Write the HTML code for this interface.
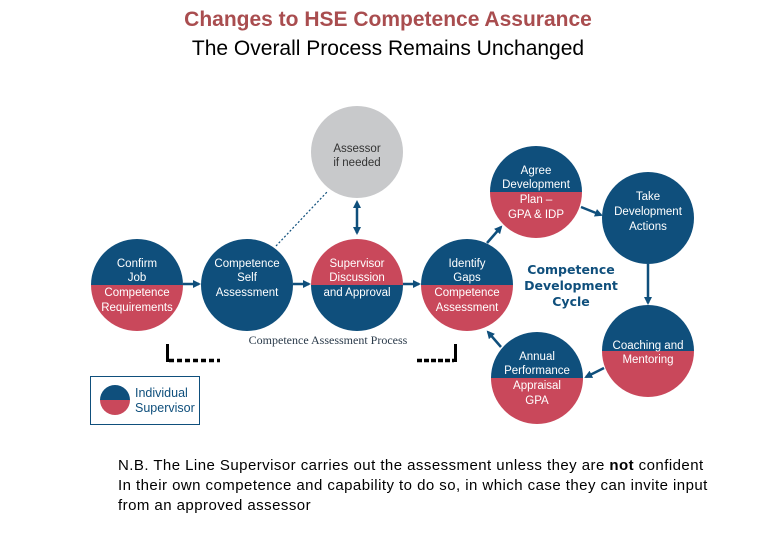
<!DOCTYPE html>
<html><head><meta charset="utf-8"><style>
html,body{margin:0;padding:0;background:#fff;}
svg{display:block;}
.c{font-family:"Liberation Sans",sans-serif;fill:#fff;font-size:11.5px;text-anchor:middle;}
</style></head><body>
<svg width="780" height="540" viewBox="0 0 780 540" xmlns="http://www.w3.org/2000/svg">
<defs>
<marker id="ah" markerWidth="8" markerHeight="8" refX="6" refY="4" orient="auto" markerUnits="userSpaceOnUse"><path d="M0,0 L8,4 L0,8 Z" fill="#0f4f7c"/></marker>
<marker id="ahs" markerWidth="8" markerHeight="8" refX="2" refY="4" orient="auto-start-reverse" markerUnits="userSpaceOnUse"><path d="M0,0 L8,4 L0,8 Z" fill="#0f4f7c"/></marker>
<clipPath id="cl"><circle cx="0" cy="0" r="46"/></clipPath>
</defs>
<text x="388" y="26" text-anchor="middle" font-family="Liberation Sans, sans-serif" font-weight="bold" font-size="21" fill="#a94d4f">Changes to HSE Competence Assurance</text>
<text x="388" y="55" text-anchor="middle" font-family="Liberation Sans, sans-serif" font-size="21" fill="#000">The Overall Process Remains Unchanged</text>

<g stroke="#0f4f7c" stroke-width="2.5" fill="none">
<line x1="183" y1="284" x2="199" y2="284" marker-end="url(#ah)"/>
<line x1="293" y1="284" x2="309" y2="284" marker-end="url(#ah)"/>
<line x1="403" y1="284" x2="419" y2="284" marker-end="url(#ah)"/>
<line x1="357" y1="206" x2="357" y2="233" marker-start="url(#ahs)" marker-end="url(#ah)"/>
<line x1="487" y1="243" x2="501" y2="227" marker-end="url(#ah)"/>
<line x1="581" y1="207" x2="601" y2="215" marker-end="url(#ah)"/>
<line x1="648" y1="264" x2="648" y2="303" marker-end="url(#ah)"/>
<line x1="604" y1="368" x2="586" y2="377" marker-end="url(#ah)"/>
<line x1="501" y1="347" x2="488" y2="332" marker-end="url(#ah)"/>
</g>
<line x1="276" y1="246" x2="327" y2="192" stroke="#0f4f7c" stroke-width="1.2" stroke-dasharray="2,2"/>

<g transform="translate(357,152)"><circle r="46" fill="#c8c9cb"/><text class="c" y="0" style="fill:#333">Assessor</text><text class="c" y="14" style="fill:#333">if needed</text></g>

<g transform="translate(137,285)" clip-path="url(#cl)"><rect x="-46" y="-46" width="92" height="46" fill="#0f4f7c"/><rect x="-46" y="0" width="92" height="46" fill="#c9485b"/>
<text class="c" y="-18">Confirm</text><text class="c" y="-4">Job</text><text class="c" y="11">Competence</text><text class="c" y="26">Requirements</text></g>

<g transform="translate(247,285)"><circle r="46" fill="#0f4f7c"/>
<text class="c" y="-18">Competence</text><text class="c" y="-4">Self</text><text class="c" y="11">Assessment</text></g>

<g transform="translate(357,285)" clip-path="url(#cl)"><rect x="-46" y="-46" width="92" height="46" fill="#c9485b"/><rect x="-46" y="0" width="92" height="46" fill="#0f4f7c"/>
<text class="c" y="-18">Supervisor</text><text class="c" y="-4">Discussion</text><text class="c" y="11">and Approval</text></g>

<g transform="translate(467,285)" clip-path="url(#cl)"><rect x="-46" y="-46" width="92" height="46" fill="#0f4f7c"/><rect x="-46" y="0" width="92" height="46" fill="#c9485b"/>
<text class="c" y="-18">Identify</text><text class="c" y="-4">Gaps</text><text class="c" y="11">Competence</text><text class="c" y="26">Assessment</text></g>

<g transform="translate(536,192)" clip-path="url(#cl)"><rect x="-46" y="-46" width="92" height="46" fill="#0f4f7c"/><rect x="-46" y="0" width="92" height="46" fill="#c9485b"/>
<text class="c" y="-18">Agree</text><text class="c" y="-4">Development</text><text class="c" y="11">Plan –</text><text class="c" y="26">GPA &amp; IDP</text></g>

<g transform="translate(648,218)"><circle r="46" fill="#0f4f7c"/>
<text class="c" y="-18">Take</text><text class="c" y="-3">Development</text><text class="c" y="12">Actions</text></g>

<g transform="translate(648,351)" clip-path="url(#cl)"><rect x="-46" y="-46" width="92" height="46" fill="#0f4f7c"/><rect x="-46" y="0" width="92" height="46" fill="#c9485b"/>
<text class="c" y="-2">Coaching and</text><text class="c" y="12">Mentoring</text></g>

<g transform="translate(537,378)" clip-path="url(#cl)"><rect x="-46" y="-46" width="92" height="46" fill="#0f4f7c"/><rect x="-46" y="0" width="92" height="46" fill="#c9485b"/>
<text class="c" y="-18">Annual</text><text class="c" y="-4">Performance</text><text class="c" y="11">Appraisal</text><text class="c" y="26">GPA</text></g>

<g font-family="DejaVu Sans, sans-serif" font-weight="bold" font-size="12.5" fill="#0f4f7c" text-anchor="middle">
<text x="571" y="274">Competence</text><text x="571" y="290">Development</text><text x="571" y="306">Cycle</text></g>

<text x="328" y="344" text-anchor="middle" font-family="Liberation Serif, serif" font-size="12" fill="#2a3a4a">Competence Assessment Process</text>
<g fill="#000"><rect x="166" y="344" width="3" height="18"/><line x1="169" y1="360.5" x2="220" y2="360.5" stroke="#000" stroke-width="3.5" stroke-dasharray="5,3"/></g>
<g fill="#000"><rect x="454" y="344" width="3" height="18"/><line x1="417" y1="360.5" x2="454" y2="360.5" stroke="#000" stroke-width="3.5" stroke-dasharray="5,2"/></g>

<g>
<rect x="90.5" y="376.5" width="109" height="48" fill="#fff" stroke="#0f4f7c" stroke-width="1"/>
<g transform="translate(115,400)"><clipPath id="lc"><circle r="15"/></clipPath><g clip-path="url(#lc)"><rect x="-15" y="-15" width="30" height="15" fill="#0f4f7c"/><rect x="-15" y="0" width="30" height="15" fill="#c9485b"/></g></g>
<text x="135" y="397" font-family="Liberation Sans, sans-serif" font-size="12.5" fill="#0f4f7c">Individual</text>
<text x="135" y="412" font-family="Liberation Sans, sans-serif" font-size="12.5" fill="#0f4f7c">Supervisor</text>
</g>

<g font-family="Liberation Sans, sans-serif" font-size="15" letter-spacing="0.45" fill="#000">
<text x="118" y="470">N.B. The Line Supervisor carries out the assessment unless they are <tspan font-weight="bold">not</tspan> confident</text>
<text x="118" y="490">In their own competence and capability to do so, in which case they can invite input</text>
<text x="118" y="510">from an approved assessor</text>
</g>
</svg>
</body></html>
